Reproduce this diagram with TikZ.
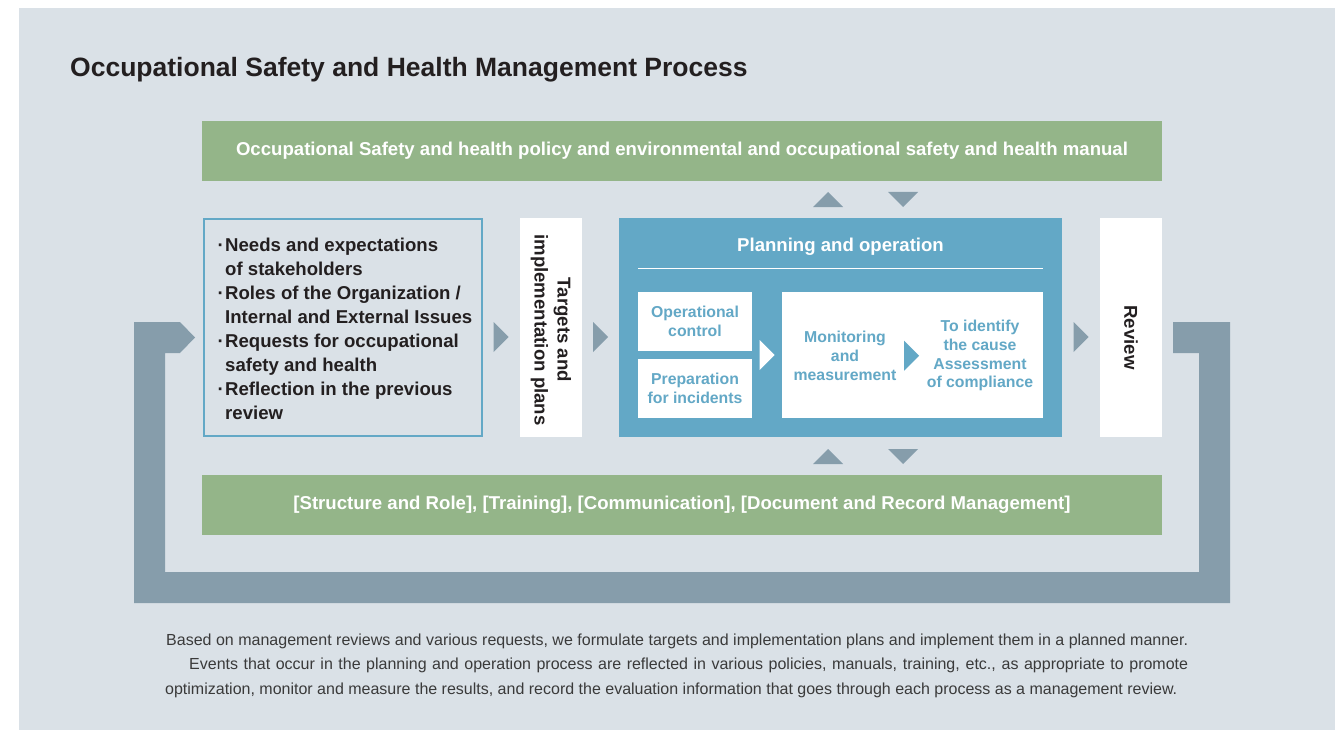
\documentclass[tikz,border=0pt]{standalone}
\usepackage{fontspec}
\setmainfont{Liberation Sans}
\usepackage{xcolor}
\usepackage{tikz}
\usetikzlibrary{calc}
\definecolor{panelgray}{HTML}{DAE1E7}
\definecolor{leafgreen}{HTML}{94B589}
\definecolor{planblue}{HTML}{63A8C6}
\definecolor{loopgray}{HTML}{869DAB}
\definecolor{inkdark}{HTML}{231F20}
\definecolor{notegray}{HTML}{3A3A3A}
\newcommand{\itemdot}{\llap{·\kern1.5pt}}
\tikzset{
  arrowr/.pic={
    \fill (-7.5,-15)--(7.5,0)--(-7.5,15)--cycle;
  },
  arrowup/.pic={
    \fill (-15,7.5)--(0,-7.5)--(15,7.5)--cycle;
  },
  arrowdn/.pic={
    \fill (-15,-7.5)--(15,-7.5)--(0,7.5)--cycle;
  }
}
\tikzset{
  bar/.style={
    fill=leafgreen,
    inner sep=0,
    outer sep=0,
    minimum width=960pt,
    minimum height=60pt,
    text=white,
    font=\bfseries\fontsize{18.6}{24}\selectfont
  },
  whitebox/.style={
    fill=white,
    inner sep=0,
    outer sep=0
  },
  sidetext/.style={
    rotate=-90,
    align=center,
    text=inkdark,
    inner sep=0,
    font=\bfseries\fontsize{18.6}{23}\selectfont
  },
  innertext/.style={
    align=center,
    text=planblue,
    inner sep=0,
    font=\bfseries\fontsize{15.8}{18.8}\selectfont
  },
  note/.style={
    anchor=base west,
    inner sep=0,
    text=notegray,
    font=\fontsize{16}{24}\selectfont
  }
}

\begin{document}
\begin{tikzpicture}[x=1pt, y=-1pt]
  \useasboundingbox (0,0) rectangle (1335,730);
  \fill[panelgray] (19,8) rectangle (1335,730);

  \node[anchor=base west, inner sep=0, text=inkdark, font=\bfseries\fontsize{26.5}{30}\selectfont] (title) at (70,76.5) {Occupational Safety and Health Management Process};

  \node[bar] (policy) at (682,151) {Occupational Safety and health policy and environmental and occupational safety and health manual};
  \node[bar] (support) at (682,505) {[Structure and Role], [Training], [Communication], [Document and Record Management]};

  % review loop back to the inputs
  \fill[loopgray] (134,322) -- (180,322) -- (195,337.5) -- (180,353) -- (165,353) -- (165,572) -- (1199,572) -- (1199,353) -- (1173,353) -- (1173,322) -- (1230,322) -- (1230,603) -- (134,603) -- cycle;

  \node[draw=planblue, line width=2pt, inner sep=0, outer sep=0, minimum width=278pt, minimum height=217pt] (needs) at (343,327.5) {};
  \node[anchor=west, align=left, inner sep=0, text=inkdark, font=\bfseries\fontsize{18.6}{24}\selectfont] (needslist) at (225,329) {\itemdot Needs and expectations\\of stakeholders\\\itemdot Roles of the Organization /\\Internal and External Issues\\\itemdot Requests for occupational\\safety and health\\\itemdot Reflection in the previous\\review};

  \node[whitebox, minimum width=62pt, minimum height=219pt] (targets) at (551,327.5) {};
  \node[sidetext] (targetstext) at (551,330) {Targets and\\implementation plans};

  \node[fill=planblue, inner sep=0, outer sep=0, minimum width=443pt, minimum height=219pt] (plan) at (840.5,327.5) {};
  \node[anchor=base, inner sep=0, text=white, font=\bfseries\fontsize{18.6}{24}\selectfont] (plantitle) at (840.5,251) {Planning and operation};
  \draw[white, line width=1.3pt] (638,268.7) -- (1043,268.7);
  \node[whitebox, innertext, minimum width=114pt, minimum height=59pt] (opctrl) at (695,321.5) {Operational\\control};
  \node[whitebox, innertext, minimum width=114pt, minimum height=59pt] (prep) at (695,388.5) {Preparation\\for incidents};
  \node[whitebox, minimum width=261pt, minimum height=126pt] (monitor) at (912.5,355) {};
  \node[innertext] (monitortext) at (845,355.7) {Monitoring\\and\\measurement};
  \node[innertext] (causetext) at (980,355.7) {To identify\\the cause\\Assessment\\of compliance};

  \node[whitebox, minimum width=62pt, minimum height=219pt] (review) at (1131,327.5) {};
  \node[sidetext] (reviewtext) at (1131,337.5) {Review};

  \pic[color=loopgray] at ($(needs.east)!.5!(targets.west)+(0,9.5)$) {arrowr};
  \pic[color=loopgray] at ($(targets.east)!.5!(plan.west)+(0,9.5)$) {arrowr};
  \pic[color=loopgray] at ($(plan.east)!.5!(review.west)+(0,9.5)$) {arrowr};
  \pic[color=white] at ($(opctrl.east |- monitor.west)!.5!(monitor.west)$) {arrowr};
  \pic[color=planblue] at ($(monitortext.east)!.5!(causetext.west)$) {arrowr};

  \pic[color=loopgray] at (828,199.5) {arrowup};
  \pic[color=loopgray] at (903,199.5) {arrowdn};
  \pic[color=loopgray] at (828,456.5) {arrowup};
  \pic[color=loopgray] at (903,456.5) {arrowdn};

  \node[note] (note1) at (166,645) {\makebox[1022pt][s]{Based on management reviews and various requests, we formulate targets and implementation plans and implement them in a planned manner.}};
  \node[note] (note2) at (189,669) {\makebox[999pt][s]{Events that occur in the planning and operation process are reflected in various policies, manuals, training, etc., as appropriate to promote}};
  \node[note] (note3) at (165,694) {optimization, monitor and measure the results, and record the evaluation information that goes through each process as a management review.};
\end{tikzpicture}
\end{document}
